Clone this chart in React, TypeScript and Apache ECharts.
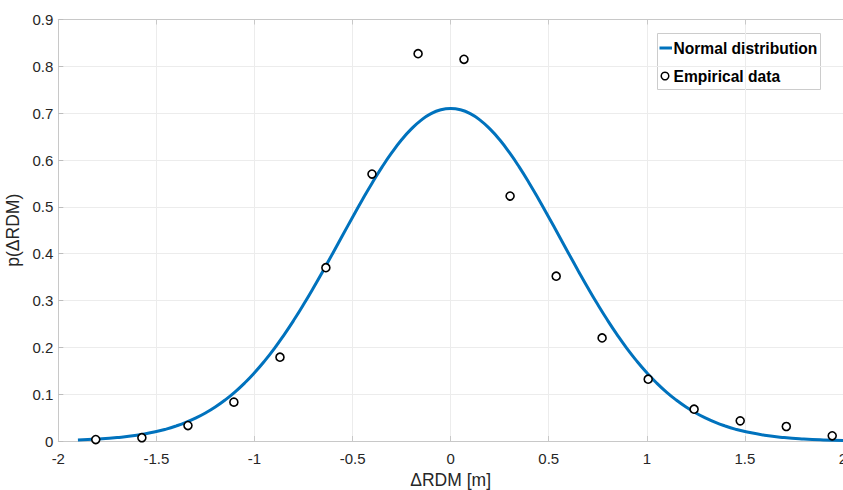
import React, { useEffect, useRef } from "react";
import * as echarts from "echarts";

// Empirical data
const empiricalX = [-1.809, -1.574, -1.339, -1.105, -0.87, -0.636, -0.401, -0.166, 0.068, 0.303, 0.538, 0.772, 1.007, 1.241, 1.476, 1.711, 1.945];
const empiricalY = [0.003, 0.007, 0.033, 0.083, 0.179, 0.370, 0.570, 0.827, 0.815, 0.523, 0.352, 0.220, 0.132, 0.068, 0.043, 0.031, 0.011];

// Normal distribution curve
const curveX = [-1.9, -1.8, -1.7, -1.6, -1.5, -1.45, -1.4, -1.35, -1.3, -1.25, -1.2, -1.15, -1.1, -1.05, -1.0, -0.95, -0.9, -0.85, -0.8, -0.75, -0.7, -0.65, -0.6, -0.55, -0.5, -0.45, -0.4, -0.35, -0.3, -0.25, -0.2, -0.15, -0.1, -0.05, 0, 0.05, 0.1, 0.15, 0.2, 0.25, 0.3, 0.35, 0.4, 0.45, 0.5, 0.55, 0.6, 0.65, 0.7, 0.75, 0.8, 0.85, 0.9, 0.95, 1.0, 1.05, 1.1, 1.15, 1.2, 1.25, 1.3, 1.35, 1.4, 1.45, 1.5, 1.6, 1.7, 1.8, 1.9, 2.0];
const curveY = [0.0023, 0.0042, 0.0073, 0.0123, 0.0202, 0.0254, 0.0319, 0.0396, 0.0489, 0.0598, 0.0726, 0.0875, 0.1045, 0.1239, 0.1458, 0.1701, 0.1969, 0.2262, 0.2577, 0.2914, 0.3268, 0.3637, 0.4015, 0.4398, 0.4779, 0.5152, 0.5511, 0.5848, 0.6157, 0.6431, 0.6664, 0.6852, 0.6989, 0.7072, 0.71, 0.7072, 0.6989, 0.6852, 0.6664, 0.6431, 0.6157, 0.5848, 0.5511, 0.5152, 0.4779, 0.4398, 0.4015, 0.3637, 0.3268, 0.2914, 0.2577, 0.2262, 0.1969, 0.1701, 0.1458, 0.1239, 0.1045, 0.0875, 0.0726, 0.0598, 0.0489, 0.0396, 0.0319, 0.0254, 0.0202, 0.0123, 0.0073, 0.0042, 0.0023, 0.0013];

const seriesNames = ["Normal distribution", "Empirical data"];
const xAxisTitle = "ΔRDM [m]";
const yAxisTitle = "p(ΔRDM)";

const FONT = "'Liberation Sans', Arial, Helvetica, sans-serif";
const BLUE = "#0072BD";

export default function App() {
  const ref = useRef<HTMLDivElement>(null);
  useEffect(() => {
    if (!ref.current) return;
    const chart = echarts.init(ref.current, undefined, { renderer: "svg" });
    const axisLabel = { color: "#262626", fontSize: 15, fontFamily: FONT };
    chart.setOption({
      animation: false,
      backgroundColor: "#ffffff",
      grid: { left: 58.3, right: 0, top: 19.5, bottom: 49, containLabel: false, outerBoundsMode: "none" },
      xAxis: [
        {
          type: "value",
          min: -2,
          max: 2,
          interval: 0.5,
          name: xAxisTitle,
          nameLocation: "middle",
          nameGap: 27,
          nameTextStyle: { color: "#262626", fontSize: 17.5, fontFamily: FONT },
          axisLine: { show: true, onZero: false, lineStyle: { color: "#c8c8c8", width: 1 } },
          axisTick: { show: true, inside: true, length: 5, lineStyle: { color: "#c8c8c8" } },
          axisLabel: { ...axisLabel, margin: 10, hideOverlap: false },
          splitLine: { show: true, lineStyle: { color: "#ececec", width: 1 } },
        },
        {
          type: "value",
          position: "top",
          min: -2,
          max: 2,
          interval: 0.5,
          axisLine: { show: true, onZero: false, lineStyle: { color: "#c8c8c8", width: 1 } },
          axisTick: { show: true, inside: true, length: 5, lineStyle: { color: "#c8c8c8" } },
          axisLabel: { show: false },
          splitLine: { show: false },
        },
      ],
      yAxis: [
        {
          type: "value",
          min: 0,
          max: 0.9,
          interval: 0.1,
          name: yAxisTitle,
          nameLocation: "middle",
          nameRotate: 90,
          nameGap: 20,
          nameTextStyle: { color: "#262626", fontSize: 17.5, fontFamily: FONT },
          axisLine: { show: true, onZero: false, lineStyle: { color: "#c8c8c8", width: 1 } },
          axisTick: { show: true, inside: true, length: 5, lineStyle: { color: "#bdbdbd" } },
          axisLabel: { ...axisLabel, margin: 5 },
          splitLine: { show: true, lineStyle: { color: "#ececec", width: 1 } },
        },
      ],
      series: [
        {
          name: seriesNames[0],
          type: "line",
          smooth: true,
          showSymbol: false,
          symbol: "none",
          lineStyle: { color: BLUE, width: 3 },
          data: curveX.map((x, i) => [x, curveY[i]]),
          z: 2,
        },
        {
          name: seriesNames[1],
          type: "scatter",
          symbol: "circle",
          symbolSize: 8,
          itemStyle: { color: "#ffffff", borderColor: "#000000", borderWidth: 1.6, opacity: 1 },
          data: empiricalX.map((x, i) => [x, empiricalY[i]]),
          z: 3,
        },
      ],
      graphic: [
        {
          type: "group",
          left: 657,
          top: 33,
          z: 100,
          children: [
            { type: "rect", shape: { x: 0, y: 0, width: 163, height: 56 }, style: { fill: "#ffffff", stroke: "#cccccc", lineWidth: 1 } },
            { type: "line", shape: { x1: 2, y1: 14.5, x2: 14.5, y2: 14.5 }, style: { stroke: BLUE, lineWidth: 3 } },
            { type: "text", x: 16, y: 14.5, style: { text: seriesNames[0], fill: "#000000", font: `bold 15.6px ${FONT}`, verticalAlign: "middle", align: "left" } },
            { type: "circle", shape: { cx: 7.5, cy: 42.5, r: 3.8 }, style: { fill: "#ffffff", stroke: "#000000", lineWidth: 1.5 } },
            { type: "text", x: 16, y: 42.5, style: { text: seriesNames[1], fill: "#000000", font: `bold 15.6px ${FONT}`, verticalAlign: "middle", align: "left" } },
          ],
        },
      ],
    });
    return () => chart.dispose();
  }, []);
  return (
    <div
      ref={ref}
      style={{ position: "fixed", left: 0, top: 0, width: 843, height: 490, background: "#fff" }}
    />
  );
}
